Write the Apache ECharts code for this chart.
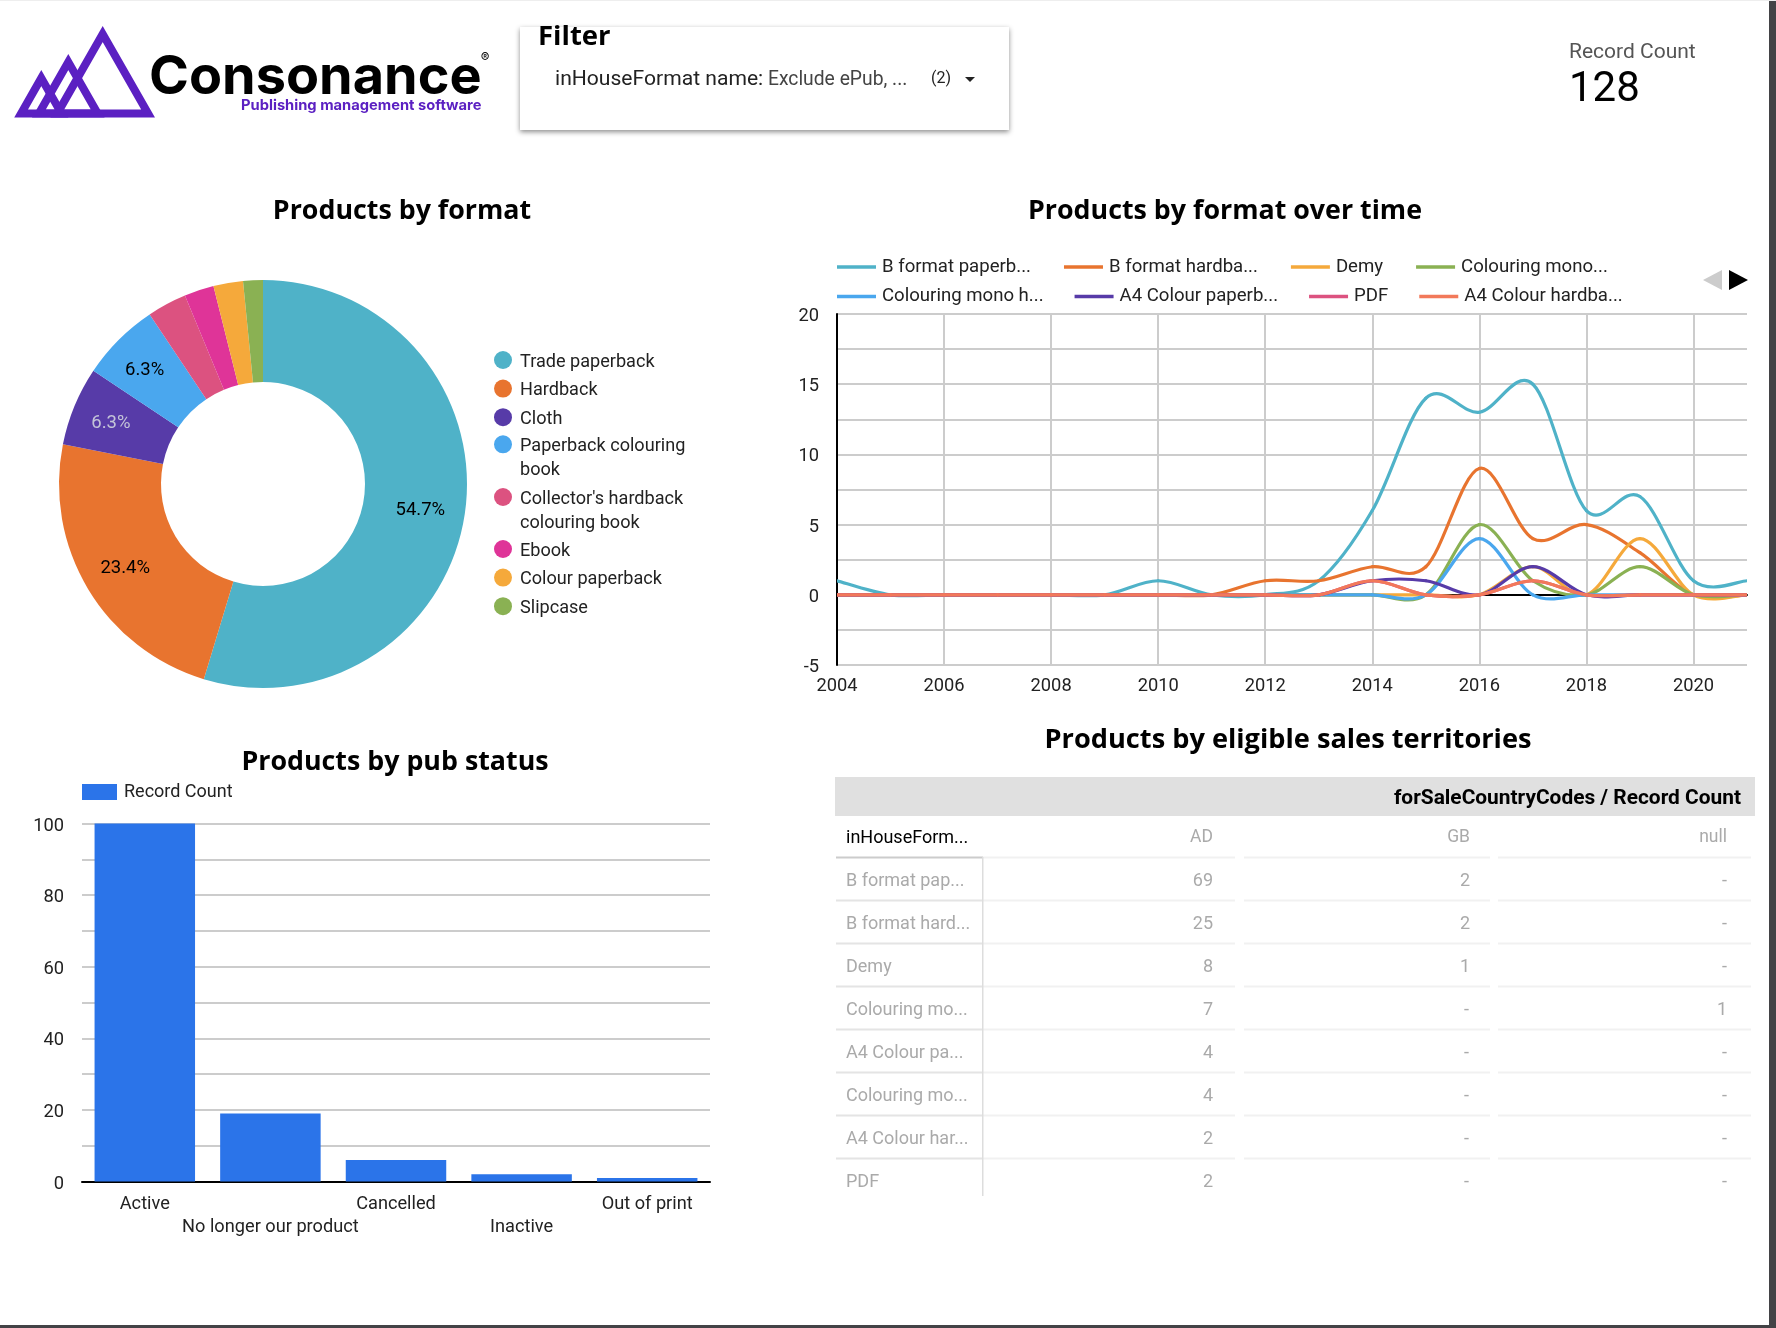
<!DOCTYPE html>
<html><head><meta charset="utf-8">
<style>html,body{margin:0;padding:0;background:#fff}#c{width:1776px;height:1328px}</style>
<script src="https://cdn.jsdelivr.net/npm/echarts@6/dist/echarts.min.js"></script>
</head><body><div id="c"></div>
<script>
// ---- Pie
const pieNames = ["Trade paperback","Hardback","Cloth","Paperback colouring book","Collector's hardback colouring book","Ebook","Colour paperback","Slipcase"];
const pieValues = [70,30,8,8,4,3,3,2];
const pieColors = ["#4fb2c8","#e8742f","#573ba8","#4aa7ee","#dc5280","#df3498","#f5a93b","#8ab153"];
const pieLegendLines = {"Paperback colouring book":["Paperback colouring","book"],"Collector's hardback colouring book":["Collector's hardback","colouring book"]};
const pieLabelOffsets = [[3,3],[-4,4],[-8,-1],[-8,-3]];
// ---- Lines
const years = [2004,2005,2006,2007,2008,2009,2010,2011,2012,2013,2014,2015,2016,2017,2018,2019,2020,2021];
const lineNames = ["B format paperb...","B format hardba...","Demy","Colouring mono...","Colouring mono h...","A4 Colour paperb...","PDF","A4 Colour hardba..."];
const lineColors = ["#4fb2c8","#e8742f","#f5a93b","#8ab153","#4aa7ee","#573ba8","#dc5280","#f2795a"];
const bFormatPaperback = [1,0,0,0,0,0,1,0,0,1,6,14,13,15,6,7,1,1];
const bFormatHardback  = [0,0,0,0,0,0,0,0,1,1,2,2,9,4,5,3,0,0];
const demy             = [0,0,0,0,0,0,0,0,0,0,0,0,0,2,0,4,0,0];
const colouringMonoP   = [0,0,0,0,0,0,0,0,0,0,0,0,5,1,0,2,0,0];
const colouringMonoH   = [0,0,0,0,0,0,0,0,0,0,0,0,4,0,0,0,0,0];
const a4Paperback      = [0,0,0,0,0,0,0,0,0,0,1,1,0,2,0,0,0,0];
const pdf              = [0,0,0,0,0,0,0,0,0,0,1,0,0,1,0,0,0,0];
const a4Hardback       = [0,0,0,0,0,0,0,0,0,0,1,0,0,1,0,0,0,0];
const lineValues = [bFormatPaperback,bFormatHardback,demy,colouringMonoP,colouringMonoH,a4Paperback,pdf,a4Hardback];
// ---- Bars
const statusNames = ["Active","No longer our product","Cancelled","Inactive","Out of print"];
const statusValues = [100,19,6,2,1];
// ---- Table
const tableTitle = "forSaleCountryCodes / Record Count";
const tableHead = ["inHouseForm...","AD","GB","null"];
const tableLabels = ["B format pap...","B format hard...","Demy","Colouring mo...","A4 Colour pa...","Colouring mo...","A4 Colour har...","PDF"];
const colAD = ["69","25","8","7","4","4","2","2"];
const colGB = ["2","2","1","-","-","-","-","-"];
const colNull = ["-","-","-","1","-","-","-","-"];

const body = "Roboto, sans-serif";
const head = "'Open Sans', sans-serif";
const txt = (x,y,text,font,fill,align) => ({type:'text',silent:true,z:5,style:{x,y:y+2.5,text,font,fill,align:align||'left',verticalAlign:'middle'}});
const rect = (x,y,w,h,fill,extra) => ({type:'rect',silent:true,z:4,shape:{x,y,width:w,height:h},style:Object.assign({fill},extra||{})});
const poly = (pts,style) => ({type:'polygon',silent:true,z:5,shape:{points:pts},style});
const purple = "#5b20c2";

const graphics = [];
// logo
[[[102.7,34.1],[57.3,113.5],[148.1,113.5]],[[68.3,62.1],[38.9,113.5],[97.7,113.5]],[[41.3,78.1],[21.1,113.5],[61.5,113.5]]].forEach(p=>
  graphics.push(poly(p,{fill:'none',stroke:purple,lineWidth:8,lineJoin:'miter',miterLimit:10})));
graphics.push(txt(149,75,"Consonance","700 54px Inter, sans-serif","#000"));
graphics.push(txt(241,103,"Publishing management software","700 14.7px Inter, sans-serif",purple));
graphics.push(txt(485,56,"®","400 13px Inter, sans-serif","#000",'center'));
// filter
graphics.push(rect(520,27,489,103,"#fff",{shadowBlur:5,shadowColor:"rgba(0,0,0,.45)",shadowOffsetY:2}));
graphics.push(txt(538,35,"Filter","700 27.5px "+head,"#000"));
graphics.push(txt(555,77,"inHouseFormat name:","400 21.1px "+body,"#222"));
graphics.push(txt(768,78,"Exclude ePub, ...","400 19.3px "+body,"#444"));
graphics.push(txt(931,76,"(2)","400 16px "+body,"#222"));
graphics.push(poly([[965,77],[975,77],[970,82]],{fill:"#222"}));
// scorecard
graphics.push(txt(1569,50,"Record Count","400 21px "+body,"#555"));
graphics.push(txt(1569,88,"128","400 42px "+body,"#000"));
// legend pager
graphics.push(poly([[1722,290],[1703,280],[1722,270]],{fill:"#ccc"}));
graphics.push(poly([[1729,270],[1748,280],[1729,290]],{fill:"#000"}));
// table
const colSeg = [[836,983],[983,1235],[1244,1490],[1498,1751]];
const rowH = 43, rowTop = 879;
graphics.push(rect(835,777,920,39,"#e0e0e0"));
graphics.push(txt(1741,796,tableTitle,"700 20.9px "+body,"#000",'right'));
graphics.push(txt(846,835.5,tableHead[0],"400 18px "+body,"#000"));
graphics.push(txt(1213,835.5,tableHead[1],"400 17.5px "+body,"#aaa",'right'));
graphics.push(txt(1470,835.5,tableHead[2],"400 17.5px "+body,"#aaa",'right'));
graphics.push(txt(1727,835.5,tableHead[3],"400 17.5px "+body,"#aaa",'right'));
tableLabels.forEach((lab,i)=>{
  const y = rowTop + rowH*i;
  const lineY = y - rowH/2;
  colSeg.forEach((s,c)=>graphics.push(rect(s[0],lineY-1,s[1]-s[0],2,c===0?(i===0?"#ccc":"#e4e4e4"):"#f1f1f1")));
  graphics.push(txt(846,y,lab,"400 18px "+body,"#aaa"));
  graphics.push(txt(1213,y,colAD[i],"400 18px "+body,"#aaa",'right'));
  graphics.push(txt(colGB[i]==='-'?1469:1470,y,colGB[i],"400 18px "+body,"#aaa",'right'));
  graphics.push(txt(1727,y,colNull[i],"400 18px "+body,"#aaa",'right'));
});
graphics.push(rect(982,857,1.5,339,"#ddd"));
// window frame
graphics.push(rect(1769,0,7,1328,"#434346"));
graphics.push(rect(0,1325,1776,3,"#434346"));
graphics.push(rect(0,0,1776,1,"#eee"));

const titleBase = {textAlign:'center',textVerticalAlign:'middle',padding:0};
const titles = [["Products by format",402,211.5,26.8],["Products by format over time",1225,211.5,26.8],["Products by pub status",395,762.5,26.8],["Products by eligible sales territories",1288,740,27.2]]
  .map(t=>Object.assign({},titleBase,{text:t[0],left:t[1],top:t[2],textStyle:{fontFamily:head,fontWeight:700,fontSize:t[3],color:"#000"}}));

const pieTotal = pieValues.reduce((a,b)=>a+b,0);
const pieLegendBase = {orient:'vertical',left:494,padding:0,icon:'circle',itemWidth:18,itemHeight:18,itemGap:3.6,selectedMode:false,
  textStyle:{padding:[0,0,0,3],rich:{
    a:{fontFamily:body,fontSize:18.1,color:"#222",lineHeight:24},
    g:{lineHeight:4,fontSize:4},
    b:{lineHeight:28,fontSize:4}}},
  formatter:n=>pieLegendLines[n]?("{b|}\n"+pieLegendLines[n].map(l=>"{a|"+l+"}").join("\n")):("{g|}\n{a|"+n+"}")};
const lineLegendBase = {padding:0,icon:'rect',itemWidth:39,itemHeight:3.5,selectedMode:false,left:837,
  textStyle:{fontFamily:body,fontSize:18.6,color:"#222",padding:[0,0,0,1]}};
const tickRich = {a:{fontFamily:body,fontSize:18.3,color:"#222",lineHeight:20},g:{lineHeight:5,fontSize:4}};

// Spline through each point with tangents from its two neighbours, using the axis scales.
const renderSpline = (params, api) => {
  const i = params.dataIndex, n = params.dataInsideLength;
  if (i >= n - 1) return null;
  const pt = k => { const j = Math.max(0, Math.min(n - 1, k)); return api.coord([api.value(0, j), api.value(1, j)]); };
  const p0 = pt(i - 1), p1 = pt(i), p2 = pt(i + 1), p3 = pt(i + 2);
  return {type:'bezierCurve', silent:true,
    shape:{x1:p1[0],y1:p1[1],x2:p2[0],y2:p2[1],
      cpx1:p1[0]+(p2[0]-p0[0])/6,cpy1:p1[1]+(p2[1]-p0[1])/6,
      cpx2:p2[0]-(p3[0]-p1[0])/6,cpy2:p2[1]-(p3[1]-p1[1])/6},
    style:{fill:'none',stroke:api.visual('color'),lineWidth:3.2,lineCap:'round'}};
};

const option = {
  animation:false,
  backgroundColor:'#fff',
  title:titles,
  graphic:graphics,
  legend:[
    Object.assign({},pieLegendBase,{top:346,data:pieNames.slice(0,3).map(name=>({name}))}),
    Object.assign({},pieLegendBase,{top:418.3,data:[{name:pieNames[3]}]}),
    Object.assign({},pieLegendBase,{top:471,data:[{name:pieNames[4]}]}),
    Object.assign({},pieLegendBase,{top:535,data:pieNames.slice(5).map(name=>({name}))}),
    Object.assign({},lineLegendBase,{top:257.5,itemGap:33,data:lineNames.slice(0,4)}),
    Object.assign({},lineLegendBase,{top:287,itemGap:31,data:lineNames.slice(4)}),
    {left:82,top:783,padding:0,icon:'rect',itemWidth:35,itemHeight:16,itemGap:8,selectedMode:false,data:["Record Count"],
     textStyle:{fontFamily:body,fontSize:18,color:"#222",padding:[0,0,0,2]}}
  ],
  grid:[
    {left:837,top:314,width:910,height:351},
    {left:82,top:823.5,width:628,height:358}
  ],
  xAxis:[
    {gridIndex:0,type:'value',min:2004,max:2021,interval:2,position:'bottom',
     axisLine:{show:false,onZero:false},axisTick:{show:false},
     axisLabel:{fontFamily:body,fontSize:18.3,color:"#222",margin:12,showMaxLabel:false,hideOverlap:false,formatter:v=>String(v)},
     splitLine:{show:true,showMinLine:false,showMaxLine:false,lineStyle:{color:"#ccc",width:2}}},
    {gridIndex:0,type:'value',min:2004,max:2021,interval:2,
     axisLine:{show:true,onZero:true,lineStyle:{color:"#000",width:2}},axisTick:{show:false},axisLabel:{show:false},splitLine:{show:false}},
    {gridIndex:1,type:'category',data:statusNames,
     axisLine:{show:true,lineStyle:{color:"#000",width:2}},axisTick:{show:false},
     axisLabel:{interval:0,fontFamily:body,fontSize:18.2,color:"#222",margin:11,lineHeight:23,
       formatter:(v,i)=>i%2?("\n"+v):v},splitLine:{show:false}}
  ],
  yAxis:[
    {gridIndex:0,type:'value',min:-5,max:20,interval:2.5,
     axisLine:{show:true,onZero:false,lineStyle:{color:"#000",width:2}},axisTick:{show:false},
     axisLabel:{margin:18,rich:tickRich,formatter:v=>v%5===0?("{g|}\n{a|"+v+"}"):''},
     splitLine:{show:true,lineStyle:{color:"#ccc",width:2}}},
    {gridIndex:1,type:'value',min:0,max:100,interval:10,
     axisLine:{show:false},axisTick:{show:false},
     axisLabel:{margin:18,rich:tickRich,formatter:v=>v%20===0?("{g|}\n{a|"+v+"}"):''},
     splitLine:{show:true,lineStyle:{color:"#ccc",width:2}}}
  ],
  series:[
    {type:'pie',name:'Products by format',center:[263,484],radius:[102,204],startAngle:90,clockwise:true,
     avoidLabelOverlap:false,silent:true,
     label:{show:true,position:'inside',fontFamily:body,fontSize:18.5,color:"#000",
       formatter:p=>{const v=p.value/pieTotal*100;return v>=5?v.toFixed(1)+"%":"";}},
     labelLine:{show:false},
     data:pieNames.map((name,i)=>({name,value:pieValues[i],itemStyle:{color:pieColors[i]},
       label:Object.assign(i===2?{color:"#c4c4d8"}:{},pieLabelOffsets[i]?{offset:pieLabelOffsets[i]}:{})}))},
    ...lineNames.map((name,i)=>({type:'custom',name,coordinateSystem:'cartesian2d',xAxisIndex:0,yAxisIndex:0,silent:true,z:2+i,clip:true,
      itemStyle:{color:lineColors[i]},encode:{x:0,y:1},
      renderItem:renderSpline,
      data:years.map((y,k)=>[y,lineValues[i][k]])})),
    {type:'bar',name:"Record Count",xAxisIndex:2,yAxisIndex:1,barWidth:'80%',silent:true,
     itemStyle:{color:"#2b74e9"},data:statusValues}
  ]
};
const chart = echarts.init(document.getElementById('c'),null,{renderer:'canvas',width:1776,height:1328});
chart.setOption(option);
</script></body></html>
